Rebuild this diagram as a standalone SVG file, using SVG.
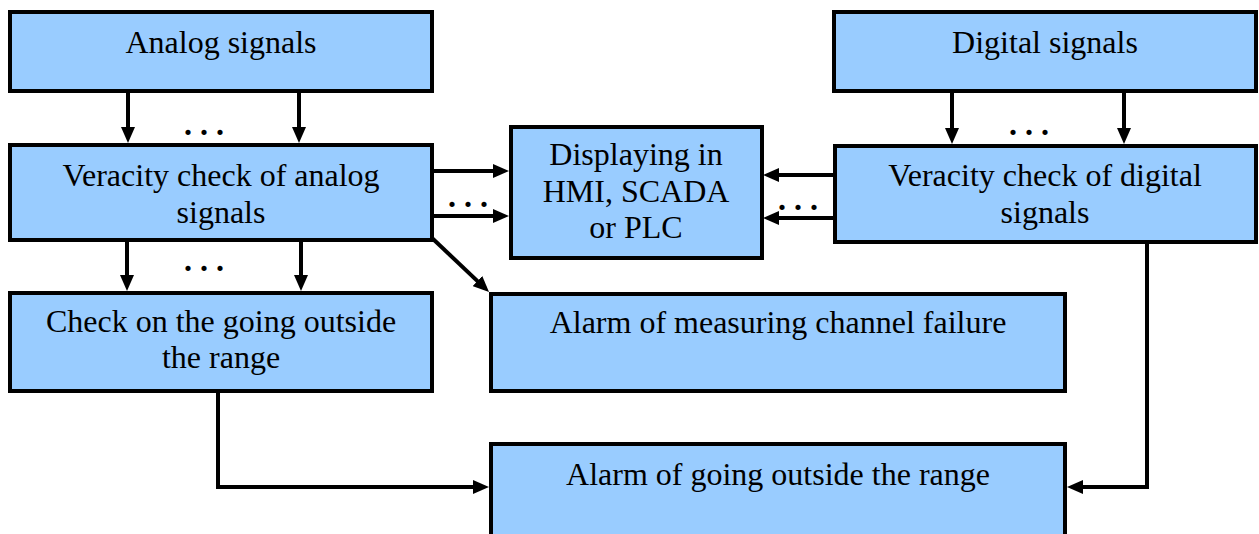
<svg xmlns="http://www.w3.org/2000/svg" width="1259" height="534" viewBox="0 0 1259 534">
  <style>
    .box { fill: #99ccff; stroke: #000; stroke-width: 4; }
    .lbl { font-family: "Liberation Serif", "Times New Roman", serif; font-size: 32px; fill: #000; text-anchor: middle; }
    .dots { font-family: "Liberation Serif", "Times New Roman", serif; font-size: 32px; font-weight: bold; fill: #000; }
    .wire { fill: none; stroke: #000; stroke-width: 4; }
  </style>
  <defs>
    <marker id="arrow" markerUnits="userSpaceOnUse" markerWidth="16" markerHeight="14" refX="11" refY="7" orient="auto">
      <path d="M0,0 L16,7 L0,14 z" fill="#000"/>
    </marker>
  </defs>
  <rect width="1259" height="534" fill="#fff"/>

  <g id="analog-signals">
    <rect class="box" x="10" y="12" width="422" height="79"/>
    <text class="lbl" x="221" y="53">Analog signals</text>
  </g>
  <g id="digital-signals">
    <rect class="box" x="834" y="12" width="422" height="79"/>
    <text class="lbl" x="1045" y="53">Digital signals</text>
  </g>
  <g id="veracity-analog">
    <rect class="box" x="10" y="145" width="422" height="95"/>
    <text class="lbl" x="221" y="186">Veracity check of analog</text>
    <text class="lbl" x="221" y="223">signals</text>
  </g>
  <g id="veracity-digital">
    <rect class="box" x="835" y="146" width="421" height="96"/>
    <text class="lbl" x="1045" y="186">Veracity check of digital</text>
    <text class="lbl" x="1045" y="223">signals</text>
  </g>
  <g id="display">
    <rect class="box" x="511" y="127" width="251" height="131"/>
    <text class="lbl" x="636" y="165">Displaying in</text>
    <text class="lbl" x="636" y="202">HMI, SCADA</text>
    <text class="lbl" x="636" y="238">or PLC</text>
  </g>
  <g id="range-check">
    <rect class="box" x="10" y="293" width="422" height="98"/>
    <text class="lbl" x="221" y="332">Check on the going outside</text>
    <text class="lbl" x="221" y="368">the range</text>
  </g>
  <g id="channel-failure-alarm">
    <rect class="box" x="491" y="294" width="574" height="97"/>
    <text class="lbl" x="778" y="333">Alarm of measuring channel failure</text>
  </g>
  <g id="range-alarm">
    <rect class="box" x="491" y="444" width="574" height="100"/>
    <text class="lbl" x="778" y="485">Alarm of going outside the range</text>
  </g>

  <g id="connectors">
    <!-- analog signals to veracity check -->
    <line class="wire" x1="128" y1="93" x2="128" y2="138" marker-end="url(#arrow)"/>
    <line class="wire" x1="299" y1="93" x2="299" y2="138" marker-end="url(#arrow)"/>
    <!-- digital signals to veracity check -->
    <line class="wire" x1="952" y1="93" x2="952" y2="139" marker-end="url(#arrow)"/>
    <line class="wire" x1="1124" y1="93" x2="1124" y2="139" marker-end="url(#arrow)"/>
    <!-- analog veracity to range check -->
    <line class="wire" x1="127" y1="242" x2="127" y2="286" marker-end="url(#arrow)"/>
    <line class="wire" x1="301" y1="242" x2="301" y2="286" marker-end="url(#arrow)"/>
    <!-- veracity checks to display -->
    <line class="wire" x1="434" y1="171" x2="504" y2="171" marker-end="url(#arrow)"/>
    <line class="wire" x1="434" y1="216" x2="504" y2="216" marker-end="url(#arrow)"/>
    <line class="wire" x1="833" y1="175" x2="768" y2="175" marker-end="url(#arrow)"/>
    <line class="wire" x1="833" y1="218" x2="768" y2="218" marker-end="url(#arrow)"/>
    <!-- analog veracity to channel failure alarm -->
    <line class="wire" x1="432" y1="238" x2="485.4" y2="288.6" marker-end="url(#arrow)"/>
    <!-- range check to range alarm -->
    <path class="wire" d="M218,393 V487 H484" marker-end="url(#arrow)"/>
    <!-- digital veracity to range alarm -->
    <path class="wire" d="M1147,244 V487 H1072" marker-end="url(#arrow)"/>
  </g>

  <g id="ellipses">
    <text class="dots" x="184" y="135">. . .</text>
    <text class="dots" x="1009" y="135">. . .</text>
    <text class="dots" x="184" y="271">. . .</text>
    <text class="dots" x="448" y="207">. . .</text>
    <text class="dots" x="778" y="210">. . .</text>
  </g>
</svg>
